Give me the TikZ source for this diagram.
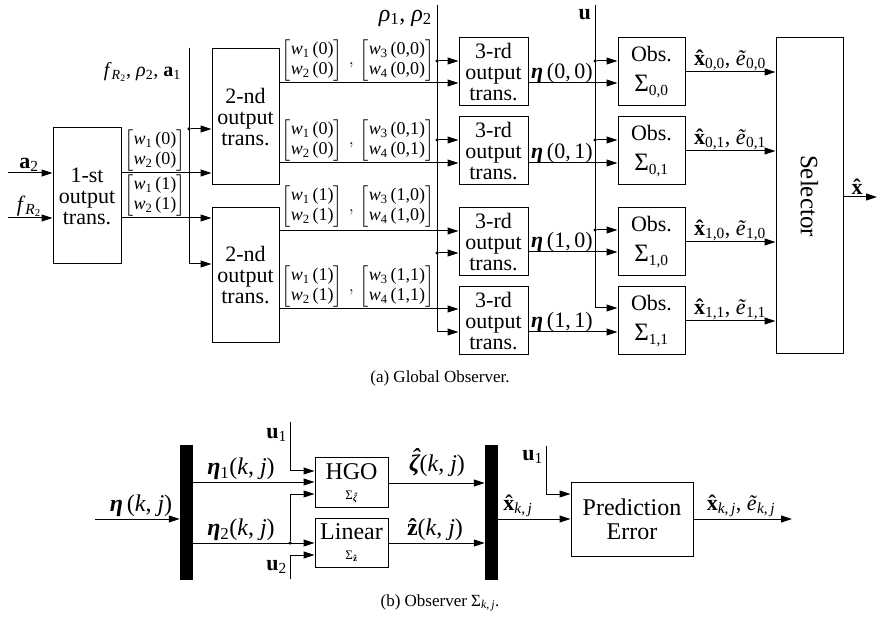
\RequirePackage{fix-cm}
\documentclass[tikz,border=0pt]{standalone}
\usepackage{amsmath}
\usepackage{fontspec}
\setmainfont{Liberation Serif}
\usetikzlibrary{arrows.meta}
\newcommand{\myib}[1]{\textbf{\textit{#1}}}
\newcommand{\mysb}[1]{\textsubscript{#1}}
\newcommand{\myhat}[3]{{\ooalign{#3\cr\hidewidth\kern#1\raisebox{#2}{ˆ}\hidewidth\cr}}}
\newcommand{\myxh}{\textbf{\myhat{0pt}{0pt}{x}}}
\tikzset{
  blk/.style={draw, line width=1pt, align=center, inner sep=0pt, font=\fontsize{22}{21}\selectfont},
  conn/.style={line width=1pt, -{Triangle[length=11pt,width=7pt]}},
  jdot/.style={circle, fill, inner sep=0pt, minimum size=3.5pt},
  lbl/.style={inner sep=1pt, font=\fontsize{22}{22}\selectfont},
  biglbl/.style={inner sep=1pt, font=\fontsize{24}{24}\selectfont},
  midlbl/.style={inner sep=1pt, font=\fontsize{20}{20}\selectfont},
  mat/.style={inner sep=0pt, font=\fontsize{18}{20}\selectfont},
  bar/.style={fill=black, minimum width=13pt, minimum height=135pt, inner sep=0pt},
  captxt/.style={inner sep=0pt, font=\fontsize{17}{17}\selectfont}
}
\newcommand{\mywmat}[1]{$\begin{bmatrix}\text{\textit{w}\mysb{1}\,(#1)}\\ \text{\textit{w}\mysb{2}\,(#1)}\end{bmatrix}$}
\newcommand{\mywpair}[2]{$\begin{bmatrix}\text{\textit{w}\mysb{1}\,(#1)}\\ \text{\textit{w}\mysb{2}\,(#1)}\end{bmatrix}\,,\,\begin{bmatrix}\text{\textit{w}\mysb{3}\,(#1,#2)}\\ \text{\textit{w}\mysb{4}\,(#1,#2)}\end{bmatrix}$}
\begin{document}
\begin{tikzpicture}[x=1pt, y=-1pt]
\useasboundingbox (0,0) rectangle (879,620);
% ---------------- (a) ----------------
\node[blk, minimum width=68pt, minimum height=136pt] (b1) at (87,196) {1-st\\output\\trans.};
\node[blk, minimum width=67pt, minimum height=136pt] (b2a) at (245.5,117) {2-nd\\output\\trans.};
\node[blk, minimum width=67pt, minimum height=135pt] (b2b) at (245.5,275.5) {2-nd\\output\\trans.};
\foreach \n/\y in {1/72, 2/151, 3/242, 4/321}{
  \node[blk, minimum width=69pt, minimum height=68pt] (t\n) at (493.5,\y) {3-rd\\output\\trans.};
}
\node[blk, minimum width=67pt, minimum height=68pt] (o1) at (651.5,72) {Obs.\\[9pt]{\fontsize{25}{25}\selectfont Σ}\mysb{0,0}};
\node[blk, minimum width=67pt, minimum height=68pt] (o2) at (651.5,151) {Obs.\\[9pt]{\fontsize{25}{25}\selectfont Σ}\mysb{0,1}};
\node[blk, minimum width=67pt, minimum height=68pt] (o3) at (651.5,242) {Obs.\\[9pt]{\fontsize{25}{25}\selectfont Σ}\mysb{1,0}};
\node[blk, minimum width=67pt, minimum height=68pt] (o4) at (651.5,321) {Obs.\\[9pt]{\fontsize{25}{25}\selectfont Σ}\mysb{1,1}};
\node[blk, minimum width=67pt, minimum height=316pt] (sel) at (809.5,196) {};
\node[rotate=-90, font=\fontsize{25}{25}\selectfont, inner sep=0pt] (seltxt) at (sel.center) {Selector};

% inputs of box 1
\coordinate (a2s) at (8,173);
\coordinate (frs) at (8,218);
\draw[conn] (a2s) -- (a2s -| b1.west);
\draw[conn] (frs) -- (frs -| b1.west);
\node[lbl, anchor=south] (la2) at (29,173) {\textbf{a}\mysb{2}};
\node[lbl, anchor=south] (lfr) at (29,218) {\textit{f}\mysb{\textit{R}\mysb{2}}};

% outputs of box 1
\coordinate (w0) at (121,173);
\coordinate (w1) at (121,218);
\draw[conn] (w0) -- (w0 -| b2a.west);
\draw[conn] (w1) -- (w1 -| b2b.west);
\node[mat] (m10) at (155,151) {\mywmat{0}};
\node[mat] (m11) at (155,196) {\mywmat{1}};

% first bus
\coordinate (bus1top) at (189,48);
\coordinate (bus1bot) at (189,264);
\node[jdot] (d1) at (189,129) {};
\draw[conn] (bus1top) -- (bus1bot) -- (bus1bot -| b2b.west);
\draw[conn] (d1) -- (d1 -| b2a.west);
\node[midlbl, anchor=east] (lbus1) at (182,72) {\textit{f}\mysb{\textit{R}\mysb{2}}, \textit{ρ}\mysb{2}, \textbf{a}\mysb{1}};

% outputs of 2nd boxes
\coordinate (r1) at (279,83);
\coordinate (r2) at (279,163);
\coordinate (r3) at (279,231);
\coordinate (r4) at (279,309);
\draw[conn] (r1) -- (r1 -| t1.west);
\draw[conn] (r2) -- (r2 -| t2.west);
\draw[conn] (r3) -- (r3 -| t3.west);
\draw[conn] (r4) -- (r4 -| t4.west);
\node[mat] (m20) at (358,60.5) {\mywpair{0}{0}};
\node[mat] (m21) at (358,140.5) {\mywpair{0}{1}};
\node[mat] (m22) at (358,207) {\mywpair{1}{0}};
\node[mat] (m23) at (358,287) {\mywpair{1}{1}};

% rho bus
\coordinate (bus2top) at (437,5);
\coordinate (bus2bot) at (437,332);
\node[jdot] (d21) at (437,61) {};
\node[jdot] (d22) at (437,140) {};
\node[jdot] (d23) at (437,253) {};
\draw[conn] (bus2top) -- (bus2bot) -- (bus2bot -| t4.west);
\draw[conn] (d21) -- (d21 -| t1.west);
\draw[conn] (d22) -- (d22 -| t2.west);
\draw[conn] (d23) -- (d23 -| t3.west);
\node[biglbl, anchor=east, inner sep=0pt] (lrho) at (432,18) {\textit{ρ}\mysb{1}, \textit{ρ}\mysb{2}};

% outputs of 3rd boxes
\coordinate (e1) at (528,83);
\coordinate (e2) at (528,163);
\coordinate (e3) at (528,252);
\coordinate (e4) at (528,332);
\draw[conn] (e1) -- (e1 -| o1.west);
\draw[conn] (e2) -- (e2 -| o2.west);
\draw[conn] (e3) -- (e3 -| o3.west);
\draw[conn] (e4) -- (e4 -| o4.west);
\node[lbl, anchor=south] (le1) at (562,84) {\myib{η}\,(0,\,0)};
\node[lbl, anchor=south] (le2) at (562,164) {\myib{η}\,(0,\,1)};
\node[lbl, anchor=south] (le3) at (562,253) {\myib{η}\,(1,\,0)};
\node[lbl, anchor=south] (le4) at (562,333) {\myib{η}\,(1,\,1)};

% u bus
\coordinate (bus3top) at (595,5);
\coordinate (bus3bot) at (595,308);
\node[jdot] (d31) at (595,61) {};
\node[jdot] (d32) at (595,140) {};
\node[jdot] (d33) at (595,230) {};
\draw[conn] (bus3top) -- (bus3bot) -- (bus3bot -| o4.west);
\draw[conn] (d31) -- (d31 -| o1.west);
\draw[conn] (d32) -- (d32 -| o2.west);
\draw[conn] (d33) -- (d33 -| o3.west);
\node[lbl, anchor=east] (lu) at (592,15) {\textbf{u}};

% obs outputs
\draw[conn] (o1.east) -- (o1.east -| sel.west);
\draw[conn] (o2.east) -- (o2.east -| sel.west);
\draw[conn] (o3.east) -- (o3.east -| sel.west);
\draw[conn] (o4.east) -- (o4.east -| sel.west);
\node[lbl, anchor=south] (lo1) at (730,72) {\myxh\mysb{0,0}, \textit{ẽ}\mysb{0,0}};
\node[lbl, anchor=south] (lo2) at (730,151) {\myxh\mysb{0,1}, \textit{ẽ}\mysb{0,1}};
\node[lbl, anchor=south] (lo3) at (730,242) {\myxh\mysb{1,0}, \textit{ẽ}\mysb{1,0}};
\node[lbl, anchor=south] (lo4) at (730,321) {\myxh\mysb{1,1}, \textit{ẽ}\mysb{1,1}};

\coordinate (xout) at (877,197);
\draw[conn] (sel.east |- xout) -- (xout);
\node[lbl, anchor=south] (lx) at (857,196) {\myxh};

\node[captxt] (capa) at (440,378) {(a) Global Observer.};

% ---------------- (b) ----------------
\node[bar] (bar1) at (186.5,512.5) {};
\node[bar] (bar2) at (491.5,512.5) {};
\node[blk, minimum width=73pt, minimum height=49pt, font=\fontsize{24}{20}\selectfont] (hgo) at (351.5,482.5)
  {HGO\\{\fontsize{13}{13}\selectfont Σ\mysb{\myib{\myhat{1pt}{2pt}{ζ}}}}};
\node[blk, minimum width=73pt, minimum height=49pt, font=\fontsize{24}{20}\selectfont] (lin) at (351.5,542.5)
  {Linear\\{\fontsize{13}{13}\selectfont Σ\mysb{\textbf{ẑ}}}};
\node[blk, minimum width=122pt, minimum height=74pt, font=\fontsize{24}{24}\selectfont] (pe) at (632,519) {Prediction\\Error};

\coordinate (etain) at (95,519);
\draw[conn] (etain) -- (etain -| bar1.west);
\node[biglbl, anchor=south] (leta) at (141,518) {\myib{η}\,(\textit{k}, \textit{j})};

\coordinate (eta1) at (193,482);
\coordinate (eta2) at (193,543);
\draw[conn] (eta1) -- (eta1 -| hgo.west);
\draw[conn] (eta2) -- (eta2 -| lin.west);
\node[biglbl, anchor=south] (leta1) at (241,481) {\myib{η}\mysb{1}(\textit{k}, \textit{j})};
\node[biglbl, anchor=south] (leta2) at (241,542) {\myib{η}\mysb{2}(\textit{k}, \textit{j})};

\coordinate (u1top) at (290,422);
\coordinate (u1turn) at (290,471);
\draw[conn] (u1top) -- (u1turn) -- (u1turn -| hgo.west);
\node[lbl, anchor=east] (lu1) at (288,435) {\textbf{u}\mysb{1}};

\node[jdot] (d4) at (290,543) {};
\coordinate (brturn) at (290,494);
\draw[conn] (d4) -- (brturn) -- (brturn -| hgo.west);

\coordinate (u2bot) at (290,579);
\coordinate (u2turn) at (290,555);
\draw[conn] (u2bot) -- (u2turn) -- (u2turn -| lin.west);
\node[lbl, anchor=east] (lu2) at (288,567) {\textbf{u}\mysb{2}};

\coordinate (zt) at (388,483);
\coordinate (zb) at (388,543);
\draw[conn] (zt) -- (zt -| bar2.west);
\draw[conn] (zb) -- (zb -| bar2.west);
\node[biglbl, anchor=south] (lzeta) at (437,478) {\myib{\myhat{3pt}{6pt}{ζ}}(\textit{k}, \textit{j})};
\node[biglbl, anchor=south] (lz) at (435,542) {\textbf{ẑ}(\textit{k}, \textit{j})};

\coordinate (xk) at (498,519);
\draw[conn] (xk) -- (xk -| pe.west);
\node[lbl, anchor=south] (lxk) at (518,518) {\myxh\mysb{\textit{k},\,\textit{j}}};

\coordinate (u1rtop) at (546,446);
\coordinate (u1rturn) at (546,494);
\draw[conn] (u1rtop) -- (u1rturn) -- (u1rturn -| pe.west);
\node[lbl, anchor=east] (lu1r) at (544,457) {\textbf{u}\mysb{1}};

\coordinate (peout) at (792,519);
\draw[conn] (pe.east) -- (peout);
\node[lbl, anchor=south] (lpe) at (741,518) {\myxh\mysb{\textit{k},\,\textit{j}}, \textit{ẽ}\mysb{\textit{k},\,\textit{j}}};

\node[captxt] (capb) at (440,603) {(b) Observer Σ\mysb{\textit{k},\,\textit{j}}.};
\end{tikzpicture}
\end{document}
